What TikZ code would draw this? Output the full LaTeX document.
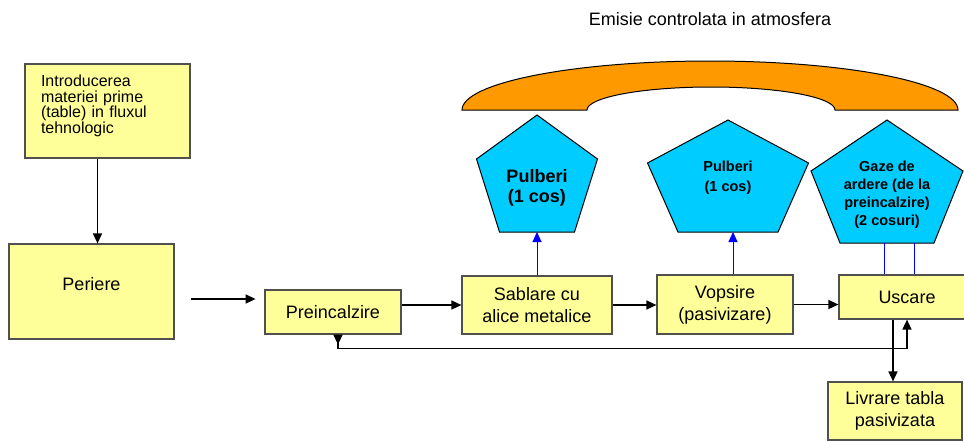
\documentclass[tikz,border=0pt]{standalone}
\usepackage{fontspec}
\setmainfont{Liberation Sans}
\usetikzlibrary{arrows.meta}
\definecolor{boxyellow}{RGB}{255,255,153}
\definecolor{boxedge}{RGB}{80,80,80}
\definecolor{pentblue}{RGB}{0,204,255}
\definecolor{arcorange}{RGB}{255,153,0}
\tikzstyle{box} = [draw=boxedge, fill=boxyellow, line width=1.2pt, align=center, inner sep=2pt, font=\fontsize{18}{22}\selectfont]
\tikzstyle{pent} = [draw=black, fill=pentblue, line width=1pt]
\tikzstyle{ptext} = [align=center, font=\bfseries\fontsize{14.5}{18}\selectfont]
\tikzstyle{flow} = [line width=1.5pt, -{Triangle[length=10pt,width=9pt]}]
\tikzstyle{emis} = [blue, line width=1pt]

\begin{document}
\begin{tikzpicture}[x=1pt, y=-1pt]
    \useasboundingbox (0,0) rectangle (964,440);
    \node[font=\fontsize{18}{22}\selectfont] (title) at (710,19) {Emisie controlata in atmosfera};
    % emisie (arc)
    \draw[draw=black, fill=arcorange, line width=1pt] (462,110) arc[start angle=180, end angle=360, x radius=248, y radius=49]
        -- (835,110) arc[start angle=360, end angle=180, x radius=124, y radius=23] -- cycle;
    % cosuri
    \foreach \n/\cx/\ty/\w/\s/\b/\h in {pa/537/115/121/44/75/117, pb/728/120/161/43/100/112, pc/887/120/152/51/94/123} {
        \draw[pent] (\cx,\ty) -- (\cx+\w/2,\ty+\s) -- (\cx+\b/2,\ty+\h) -- (\cx-\b/2,\ty+\h) -- (\cx-\w/2,\ty+\s) -- cycle;
        \coordinate (\n) at (\cx,\ty+\h);
    }
    \node[ptext, font=\bfseries\fontsize{18}{20}\selectfont] (ta) at (537,188) {Pulberi\\(1 cos)};
    \node[ptext, font=\bfseries\fontsize{14.5}{20}\selectfont] (tb) at (728,178) {Pulberi\\(1 cos)};
    \node[ptext] (tc) at (887,195) {Gaze de\\ardere (de la\\preincalzire)\\(2 cosuri)};

    \node[box, align=left, text width=133pt, inner xsep=16pt, minimum height=94pt, text depth=60pt, font=\fontsize{16}{15.5}\selectfont] (intro) at (107.5,111)
        {Introducerea\\materiei prime\\(table) in fluxul\\tehnologic};
    \node[box, minimum width=165pt, minimum height=95pt, text depth=16pt] (periere) at (91.5,291.5) {Periere};
    \node[box, minimum width=136pt, minimum height=44pt] (preinc) at (333,312) {Preincalzire};
    \node[box, minimum width=150pt, minimum height=58pt] (sablare) at (537,305) {Sablare cu\\alice metalice};
    \node[box, minimum width=136pt, minimum height=59pt] (vopsire) at (725,304.5) {Vopsire\\(pasivizare)};
    \node[box, minimum width=136pt, minimum height=44pt] (uscare) at (907,297) {Uscare};
    \node[box, minimum width=134pt, minimum height=58pt] (livrare) at (895,411) {Livrare tabla\\pasivizata};

    \draw[flow] ([xshift=-10pt]intro.south) -- ([xshift=-10pt]intro.south |- periere.north);
    \draw[flow] ([shift={(16,7.5)}]periere.east) -- ++(65,0);
    \draw[flow] (preinc.east |- sablare.west) -- (sablare.west);
    \draw[flow] (sablare.east) -- (sablare.east -| vopsire.west);
    \draw[flow] (vopsire.east) -- (vopsire.east -| uscare.west);
    \draw[flow, {Triangle[reversed,length=10pt,width=9pt]}-{Triangle[length=10pt,width=9pt]}] ([xshift=5pt]preinc.south) -- ++(0,14) -| (uscare.south);
    \draw[flow] ([xshift=-14pt]uscare.south) -- ([xshift=-14pt]uscare.south |- livrare.north);

    \draw[emis, -{Triangle[length=10pt,width=9pt]}] (sablare.north) -- (pa);
    \draw[emis, -{Triangle[length=10pt,width=9pt]}] ([xshift=8pt]vopsire.north) -- ([xshift=8pt]vopsire.north |- pb);
    \foreach \d in {-23,7}
        \draw[emis] ([xshift=\d pt]uscare.north) -- ([xshift=\d pt]uscare.north |- pc);
\end{tikzpicture}
\end{document}
